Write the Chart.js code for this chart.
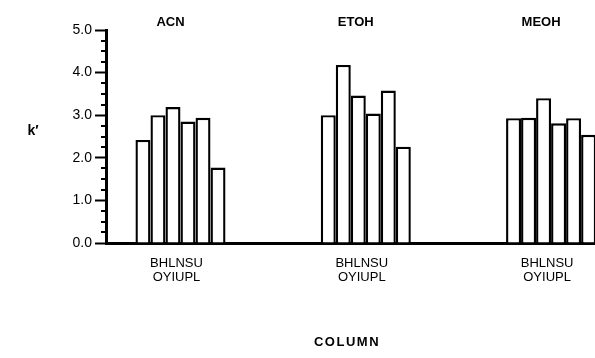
<!DOCTYPE html>
<html>
<head>
<meta charset="utf-8">
<script src="https://cdn.jsdelivr.net/npm/chart.js@4/dist/chart.umd.min.js"></script>
<style>
  html, body { margin: 0; padding: 0; background: #fff; }
</style>
</head>
<body>
<canvas id="myChart" width="595" height="358"></canvas>
<script>
// solvents (groups) and columns (bars inside each group)
const solvents = ['ACN', 'ETOH', 'MEOH'];
const columns = ['BO', 'HY', 'LI', 'NU', 'SP', 'UL'];

// k', one value per column
const kACN = [2.42, 3.00, 3.19, 2.85, 2.94, 1.77];
const kETOH = [3.00, 4.18, 3.46, 3.04, 3.58, 2.26];
const kMEOH = [2.93, 2.94, 3.40, 2.81, 2.93, 2.54];

const yMin = 0;
const yMax = 5;
const yMinorStep = 0.25;

// two-line column code under each group: first letters / second letters
const columnRow1 = columns.map(c => c[0]).join('');
const columnRow2 = columns.map(c => c[1]).join('');

const fontFam = "'Liberation Sans', Arial, sans-serif";
const groupTicks = s => { s.ticks = solvents.map((_, i) => ({ value: i })); };

const datasets = columns.map((c, i) => ({
    label: c,
    data: [kACN[i], kETOH[i], kMEOH[i]].map((v, g) => ({ x: g, y: v })),
    backgroundColor: '#fff',
    borderColor: '#000',
    borderWidth: 2.4,
    borderSkipped: 'start',
    barPercentage: 1,
    categoryPercentage: 0.486
}));

// minor ticks on the y axis plus the two free-standing titles
const extras = {
    id: 'extras',
    afterDraw(chart) {
        const ctx = chart.ctx;
        const y = chart.scales.y;
        const left = chart.chartArea.left;
        ctx.save();
        ctx.strokeStyle = '#000';
        ctx.lineWidth = 2;
        for (let v = yMin + yMinorStep; v < yMax; v += yMinorStep) {
            if (Math.abs(v - Math.round(v)) < 1e-6) continue;
            const py = Math.round(y.getPixelForValue(v));
            ctx.beginPath();
            ctx.moveTo(left - 5, py);
            ctx.lineTo(left + 2, py);
            ctx.stroke();
        }
        ctx.fillStyle = '#000';
        ctx.textAlign = 'center';
        ctx.textBaseline = 'middle';
        ctx.font = 'bold 14px ' + fontFam;
        ctx.fillText('k\u2032', 33, 131);
        ctx.font = 'bold 13px ' + fontFam;
        ctx.letterSpacing = '1.5px';
        ctx.fillText('COLUMN', 347, 342);
        ctx.restore();
    }
};

const ctx = document.querySelector('#myChart').getContext('2d');
const myChart = new Chart(ctx, {
    type: 'bar',
    data: { datasets: datasets },
    plugins: [extras],
    options: {
        responsive: false,
        animation: false,
        devicePixelRatio: 1,
        layout: { padding: { left: 66, right: 0, top: 0, bottom: 0 } },
        plugins: {
            legend: { display: false },
            tooltip: { enabled: false }
        },
        scales: {
            x: {
                type: 'linear',
                position: 'bottom',
                offset: false,
                min: -0.402,
                max: 2.237,
                afterBuildTicks: groupTicks,
                afterFit: s => { s.height = 115; },
                grid: { display: false, drawTicks: false, offset: false },
                border: { display: true, color: '#000', width: 3 },
                ticks: {
                    autoSkip: false,
                    maxRotation: 0,
                    padding: 13,
                    labelOffset: -4,
                    color: '#000',
                    font: { family: fontFam, size: 13, lineHeight: 1.1 },
                    callback: () => [columnRow1, columnRow2]
                }
            },
            x2: {
                type: 'linear',
                position: 'top',
                offset: false,
                min: -0.402,
                max: 2.237,
                afterBuildTicks: groupTicks,
                afterFit: s => { s.height = 30; },
                grid: { display: false, drawTicks: false, offset: false },
                border: { display: false },
                ticks: {
                    autoSkip: false,
                    maxRotation: 0,
                    padding: 0,
                    labelOffset: -10,
                    color: '#000',
                    font: { family: fontFam, size: 13, weight: 'bold' },
                    callback: (v, i) => solvents[i]
                }
            },
            y: {
                min: yMin,
                max: yMax,
                afterFit: s => { s.width = 40; },
                grid: { drawOnChartArea: false, tickLength: 11, tickWidth: 2, tickColor: '#000' },
                border: { color: '#000', width: 3 },
                ticks: {
                    stepSize: 1,
                    padding: 3,
                    color: '#000',
                    font: { family: fontFam, size: 14 },
                    callback: v => v.toFixed(1)
                }
            }
        }
    }
});
</script>
</body>
</html>
